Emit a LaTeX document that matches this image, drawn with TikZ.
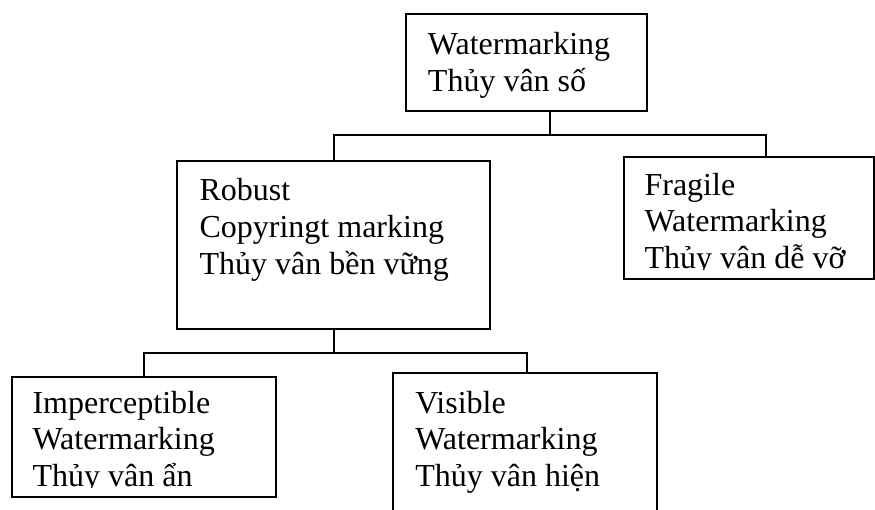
\documentclass[tikz,border=0pt]{standalone}
\usepackage{fontspec}
\setmainfont{Liberation Serif}
\usetikzlibrary{fit}

\newcommand{\boxlines}[1]{\parbox[t]{8cm}{\raggedright\lineskiplimit=-100pt #1}}

\tikzset{
  box/.style={draw, line width=1.5pt, inner sep=0pt},
  txt/.style={anchor=base west, inner sep=0pt, font=\fontsize{24pt}{27.5pt}\selectfont},
  link/.style={line width=1.5pt}
}

\begin{document}
\begin{tikzpicture}[x=0.75pt, y=-0.75pt]
\clip (0,0) rectangle (875,510);

% boxes
\node[box, fit={(406,14) (647,111)}] (top) {};
\node[box, fit={(177,161) (490,329)}] (robust) {};
\node[box, fit={(624,157) (874,278.5)}] (fragile) {};
\node[box, fit={(11.7,376.7) (276,496.7)}] (imper) {};
\node[box, fit={(393,373) (657,540)}] (visible) {};

% texts
\node[txt] (toptext) at (427.7,55) {\boxlines{Watermarking\\Thủy vân số}};
\node[txt] (robusttext) at (199.3,200.7) {\boxlines{Robust\\Copyringt marking\\Thủy vân bền vững}};
\begin{scope}
  \clip ([yshift=7.5pt]fragile.south west) rectangle (fragile.north east);
  \node[txt] (fragiletext) at (644.3,195.3) {\boxlines{Fragile\\Watermarking\\Thủy vân dễ vỡ}};
\end{scope}
\begin{scope}
  \clip ([yshift=7.5pt]imper.south west) rectangle (imper.north east);
  \node[txt] (impertext) at (32.3,413.3) {\boxlines{Imperceptible\\Watermarking\\Thủy vân ẩn}};
\end{scope}
\node[txt] (visibletext) at (415,413.3) {\boxlines{Visible\\Watermarking\\Thủy vân hiện}};

% connectors
\coordinate (bus1) at (550,134.7);
\coordinate (bus1R) at (766,134.7);
\draw[link] (top.south -| bus1) -- (bus1);
\draw[link] (robust.north) |- (bus1R) -- (bus1R |- fragile.north);
\coordinate (bus2) at (526.7,352.7);
\draw[link] (robust.south) -- (robust.south |- bus2);
\draw[link] (imper.north) |- (bus2) -- (bus2 |- visible.north);

\end{tikzpicture}
\end{document}
